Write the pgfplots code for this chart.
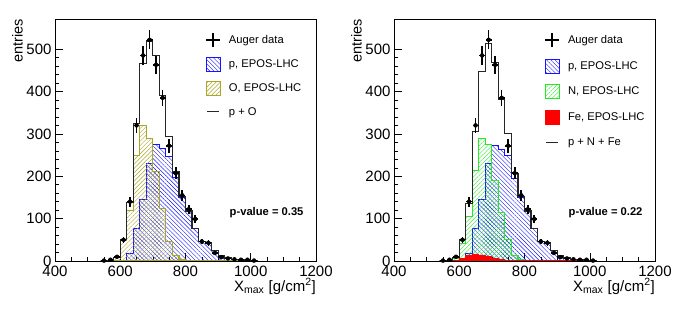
\documentclass[border=0pt]{standalone}
\usepackage{fontspec}
\setmainfont{Liberation Sans}
\usepackage{pgfplots}
\usepackage{pgfplotstable}
\pgfplotsset{compat=1.18}
\usetikzlibrary{patterns.meta}

\definecolor{olivec}{RGB}{170,166,40}
\definecolor{greenc}{RGB}{40,230,40}
\definecolor{bluec}{RGB}{20,20,255}

\tikzset{
  blueh/.style={draw=bluec, pattern={Lines[angle=-45,distance=3bp,line width=0.4bp]}, pattern color=bluec},
  oliveh/.style={draw=olivec, pattern={Lines[angle=45,distance=3bp,line width=0.4bp]}, pattern color=olivec},
  greenh/.style={draw=greenc, pattern={Lines[angle=45,distance=3bp,line width=0.4bp]}, pattern color=greenc},
}

% left panel: bin left edge, p, O, total
\pgfplotstableread{
e p O t
540 0 0 0
560 0 2 2
580 0 8 8
600 2 48 50
620 18 120 138
640 77 248 325
660 145 320 465
680 229 290 519
700 274 211 485
720 266 124 390
740 247 46 293
760 198 12 210
780 150 3 153
800 117 1 118
820 76 0 76
840 47 0 47
860 44 0 44
880 24 0 24
900 13 0 13
920 7 0 7
940 4 0 4
960 3 0 3
980 2 0 2
1000 1 0 1
1020 0 0 0
}\lefttab

% right panel: bin left edge, p, N, Fe, total
\pgfplotstableread{
e p N Fe t
540 0 0 0 0
560 0 1 1 2
580 0 5 2 8
600 3 41 6 50
620 18 106 12 136
640 77 213 16 306
660 145 288 14 447
680 229 275 10 514
700 272 191 6 469
720 264 115 3 382
740 248 51 1 300
760 194 12 0.5 207
780 150 3 0 153
800 117 1 0 118
820 76 0 0 76
840 47 0 0 47
860 44 0 0 44
880 24 0 0 24
900 13 0 0 13
920 7 0 0 7
940 4 0 0 4
960 3 0 0 3
980 2 0 0 2
1000 1 0 0 1
1020 0 0 0 0
}\righttab

% Auger data: x, entries, error
\pgfplotstableread{
x y e
550 1 1
570 3 1.7
590 10 3.2
610 50 7.1
630 140 11.8
650 320 17.9
670 485 22
690 522 22.8
710 463 21.5
730 385 19.6
750 272 16.5
770 207 14.4
790 155 12.4
810 122 11
830 99 10
850 46 6.8
870 43 6.6
890 19 4.4
910 9 3
930 6 2.4
950 4 2
970 3 1.7
990 3 1.7
1010 1 1
}\datatab

\pgfplotsset{
  panel/.style={
    scale only axis, width=261bp, height=242bp,
    xmin=400, xmax=1200, ymin=0, ymax=571,
    xtick={400,600,...,1200}, minor x tick num=3,
    ytick={0,100,...,500}, minor y tick num=4,
    tick pos=left, tick align=inside,
    major tick length=8bp, minor tick length=4bp,
    every tick/.style={black, line width=0.5bp},
    axis line style={line width=0.7bp},
    /pgf/number format/assume math mode=true,
    /pgf/number format/1000 sep={},
    tick label style={font=\fontsize{15bp}{18bp}\selectfont},
    xticklabel style={inner sep=1bp, yshift=-3.5bp},
    yticklabel style={inner sep=1bp, xshift=-2.3bp},
    xlabel={X\textsubscript{max} [g/cm\textsuperscript{2}]},
    xlabel style={at={(axis description cs:1,-0.124)}, anchor=base east, inner sep=0pt, font=\fontsize{15bp}{18bp}\selectfont},
    ylabel={entries},
    ylabel style={at={(axis description cs:-0.1245,1)}, anchor=base east, inner sep=0pt, font=\fontsize{14.5bp}{17bp}\selectfont},
    legend cell align=left,
    legend style={draw=none, fill=none, anchor=north west, inner sep=0pt,
      font=\fontsize{11.2bp}{13bp}\selectfont, nodes={inner sep=1bp},
      /tikz/every odd column/.style={column sep=7bp}},
    hist/.style={const plot, line width=1.1bp},
  }
}

\begin{document}
\begin{tikzpicture}
\useasboundingbox (-55bp,-50bp) rectangle (623bp,261bp);

% ---------------- left panel
\begin{axis}[panel, at={(0,0)}, anchor=south west,
  legend style={at={(axis description cs:0.5747,0.946)}, row sep=9bp}]
\addlegendimage{legend image code/.code={\path (-7bp,-7bp) (7bp,7bp);\draw[black,line width=1.8bp] (-7bp,0)--(7bp,0) (0,-7bp)--(0,7bp);}}
\addlegendentry{Auger data}
\addlegendimage{legend image code/.code={\draw[blueh, line width=0.8bp] (-7bp,-7bp) rectangle (7bp,7bp);}}
\addlegendentry{p, EPOS-LHC}
\addlegendimage{legend image code/.code={\draw[oliveh, line width=0.8bp] (-7bp,-7bp) rectangle (7bp,7bp);}}
\addlegendentry{O, EPOS-LHC}
\addlegendimage{legend image code/.code={\path (-7bp,-7bp) (7bp,7bp);\draw[black!85,line width=0.9bp] (-6bp,0)--(6bp,0);}}
\addlegendentry{p + O}

\addplot[hist, forget plot, blueh] table[x=e,y=p] {\lefttab} \closedcycle;
\addplot[hist, forget plot, oliveh] table[x=e,y=O] {\lefttab} \closedcycle;
\addplot[hist, forget plot, draw=black!85] table[x=e,y=t] {\lefttab};
\addplot[forget plot, black, only marks, mark=none,
  error bars/.cd, x dir=both, x fixed=9, y dir=both, y explicit, error mark=none,
  error bar style={line width=1.6bp, black}] table[x=x,y=y,y error=e] {\datatab};
\node[anchor=base east, font=\bfseries\fontsize{11.2bp}{13bp}\selectfont] at (axis description cs:0.9655,0.19) {p-value = 0.35};
\end{axis}

% ---------------- right panel
\begin{axis}[panel, at={(339bp,0)}, anchor=south west,
  legend style={at={(axis description cs:0.5747,0.946)}, row sep=10.7bp}]
\addlegendimage{legend image code/.code={\path (-7bp,-7bp) (7bp,7bp);\draw[black,line width=1.8bp] (-7bp,0)--(7bp,0) (0,-7bp)--(0,7bp);}}
\addlegendentry{Auger data}
\addlegendimage{legend image code/.code={\draw[blueh, line width=0.8bp] (-7bp,-7bp) rectangle (7bp,7bp);}}
\addlegendentry{p, EPOS-LHC}
\addlegendimage{legend image code/.code={\draw[greenh, line width=0.8bp] (-7bp,-7bp) rectangle (7bp,7bp);}}
\addlegendentry{N, EPOS-LHC}
\addlegendimage{legend image code/.code={\draw[draw=red, fill=red, line width=0.8bp] (-7bp,-7bp) rectangle (7bp,7bp);}}
\addlegendentry{Fe, EPOS-LHC}
\addlegendimage{legend image code/.code={\path (-7bp,-7bp) (7bp,7bp);\draw[black!85,line width=0.9bp] (-6bp,0)--(6bp,0);}}
\addlegendentry{p + N + Fe}

\addplot[hist, forget plot, blueh] table[x=e,y=p] {\righttab} \closedcycle;
\addplot[hist, forget plot, greenh] table[x=e,y=N] {\righttab} \closedcycle;
\addplot[hist, forget plot, draw=red, fill=red] table[x=e,y=Fe] {\righttab} \closedcycle;
\addplot[hist, forget plot, draw=black!85] table[x=e,y=t] {\righttab};
\addplot[forget plot, black, only marks, mark=none,
  error bars/.cd, x dir=both, x fixed=9, y dir=both, y explicit, error mark=none,
  error bar style={line width=1.6bp, black}] table[x=x,y=y,y error=e] {\datatab};
\node[anchor=base east, font=\bfseries\fontsize{11.2bp}{13bp}\selectfont] at (axis description cs:0.9655,0.19) {p-value = 0.22};
\end{axis}
\end{tikzpicture}
\end{document}
